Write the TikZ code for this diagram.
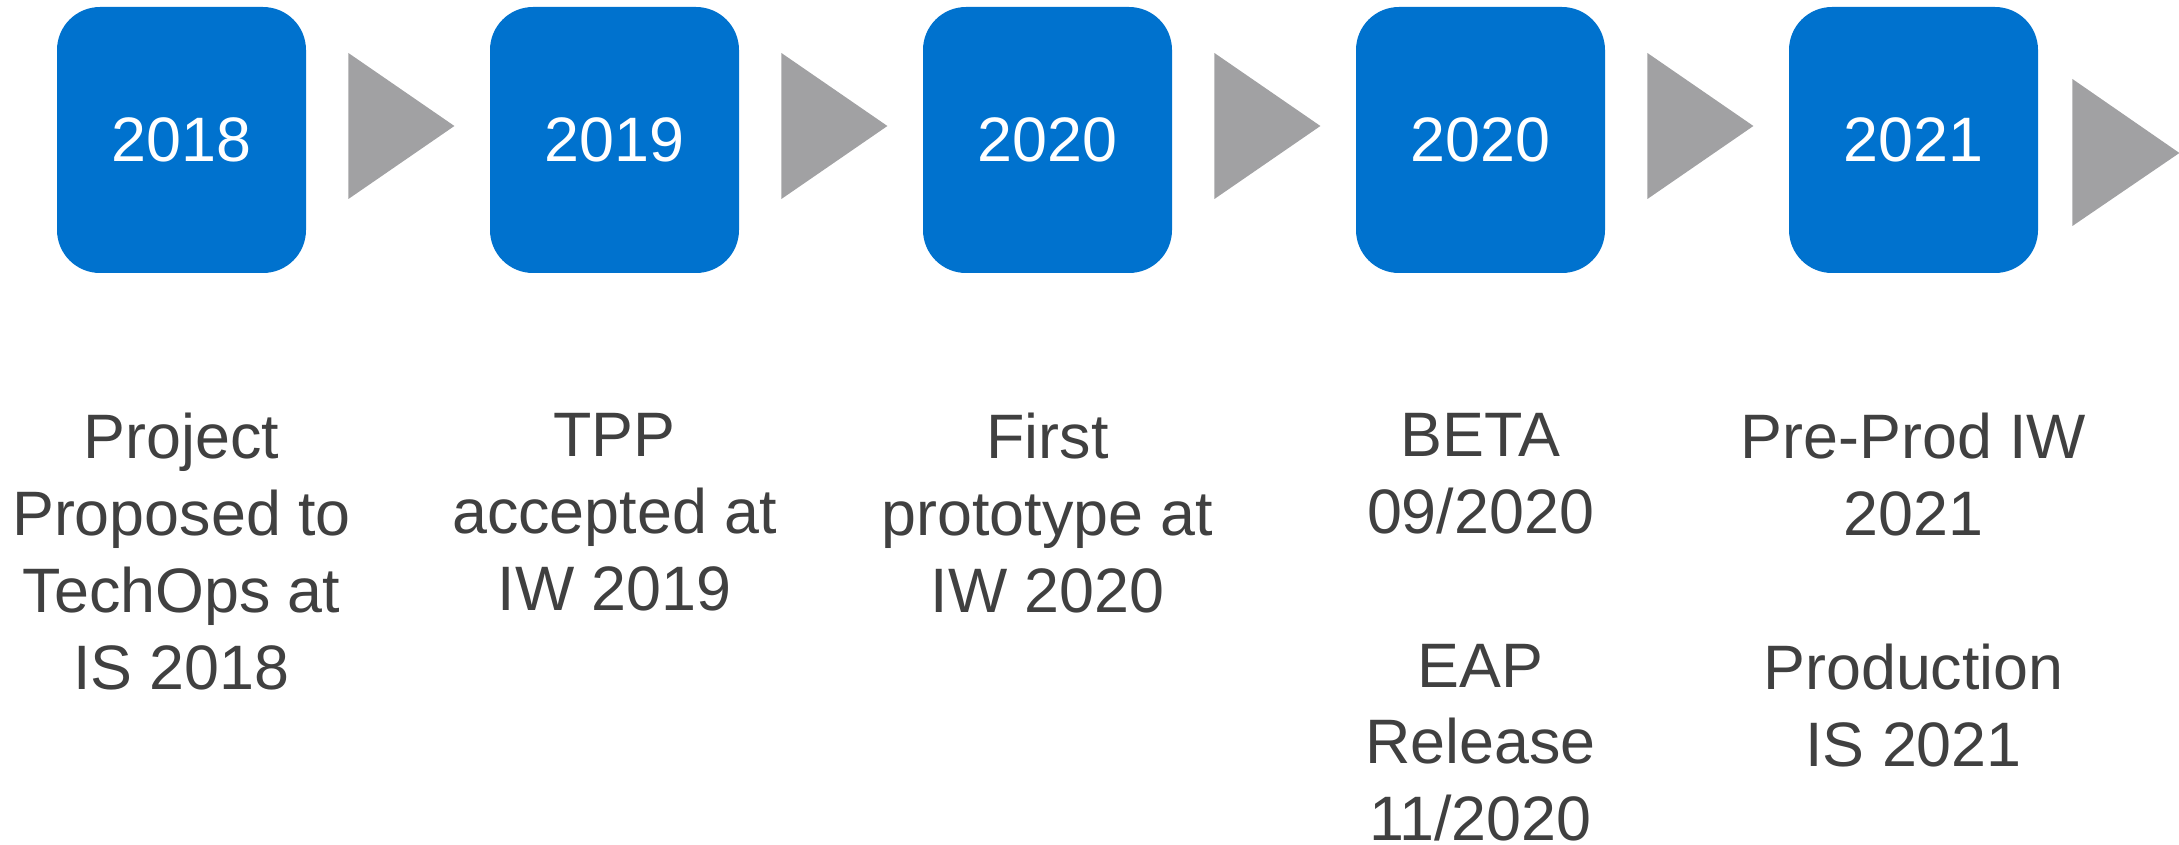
\documentclass[tikz,border=0pt]{standalone}
\usepackage{fontspec}
\setmainfont{Liberation Sans}
\definecolor{boxblue}{RGB}{0,114,206}
\definecolor{arrowgray}{RGB}{161,161,163}
\definecolor{txtgray}{RGB}{64,64,64}
\begin{document}
\begin{tikzpicture}[x=0.5pt,y=-0.5pt,
  yearbox/.style={rectangle, rounded corners=21.5pt, fill=boxblue,
    minimum width=124.5pt, minimum height=133pt, inner sep=0pt,
    text=white, font=\fontsize{31.4}{38.4}\selectfont},
  milestone/.style={anchor=north, align=center, inner sep=0pt,
    text=txtgray, font=\fontsize{31.4}{38.4}\selectfont},
  chevron/.style={fill=arrowgray}]
\useasboundingbox (0,0) rectangle (2179,845);

\node[yearbox] (b1) at (181.5,140) {2018};
\node[yearbox] (b2) at (614.5,140) {2019};
\node[yearbox] (b3) at (1047.5,140) {2020};
\node[yearbox] (b4) at (1480.5,140) {2020};
\node[yearbox] (b5) at (1913.5,140) {2021};

\foreach \b in {b1,b2,b3,b4}
  \fill[chevron] (\b.east) ++(42,-87) -- ++(106,73) -- ++(-106,73) -- cycle;
\fill[chevron] (b5.east) ++(34,-61) -- ++(107,74) -- ++(-107,73) -- cycle;

\node[milestone] (t1) at (181.5,413) {Project\\Proposed to\\TechOps at\\IS 2018};
\node[milestone] (t2) at (614.5,413) {TPP\\accepted at\\IW 2019};
\node[milestone] (t3) at (1047.5,413) {First\\prototype at\\IW 2020};
\node[milestone] (t4) at (1480.5,413) {BETA\\09/2020\\[38.4pt]EAP\\Release\\11/2020};
\node[milestone] (t5) at (1913.5,413) {Pre-Prod IW\\2021\\[38.4pt]Production\\IS 2021};
\end{tikzpicture}
\end{document}
